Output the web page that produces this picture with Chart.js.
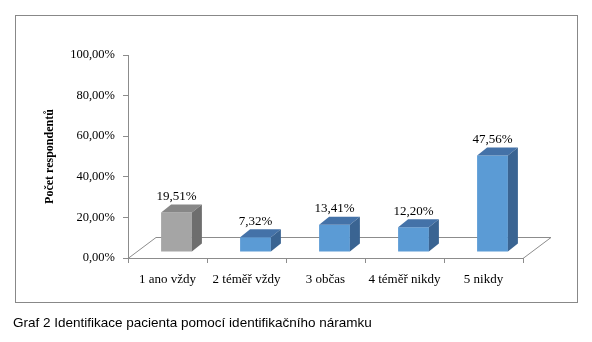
<!DOCTYPE html>
<html>
<head>
<meta charset="utf-8">
<script src="https://cdn.jsdelivr.net/npm/chart.js@4/dist/chart.umd.min.js"></script>
<style>
  html, body { margin: 0; padding: 0; background: #fff; }
  #wrap { position: relative; width: 592px; height: 342px; }
  #c { position: absolute; left: 0; top: 0; }
  #caption {
    position: absolute; left: 13px; top: 315px;
    font-family: "Liberation Sans", Arial, sans-serif; font-size: 13.5px; color: #000;
    white-space: nowrap;
  }
</style>
</head>
<body>
<div id="wrap">
  <canvas id="c" width="592" height="342"></canvas>
  <div id="caption">Graf 2 Identifikace pacienta pomocí identifikačního náramku</div>
</div>
<script>
// Answers to "Identifikace pacienta pomocí identifikačního náramku"
const categories = ['1 ano vždy', '2 téměř vždy', '3 občas', '4 téměř nikdy', '5 nikdy'];
const shares = [19.51, 7.32, 13.41, 12.20, 47.56];   // % of respondents
const yTicks = [0, 20, 40, 60, 80, 100];

// face colours: front, top, side
const FRONT = ['#a5a5a5', '#5b9bd5', '#5b9bd5', '#5b9bd5', '#5b9bd5'];
const TOP   = ['#878787', '#4472a8', '#4472a8', '#4472a8', '#4472a8'];
const SIDE  = ['#6e6e6e', '#3a6492', '#3a6492', '#3a6492', '#3a6492'];
const AXIS = '#8c8c8c';
const SERIF = '"Liberation Serif", "Times New Roman", serif';

const pct = v => v.toFixed(2).replace('.', ',') + '%';

// pseudo-3D geometry: bar front offset, bar depth, floor depth
const G = { bx: 9, by: -6, dx: 10, dy: -8, fx: 28, fy: -21 };

const box = {
  id: 'box',
  beforeDraw(chart) {
    const ctx = chart.ctx;
    ctx.save();
    ctx.strokeStyle = '#888';
    ctx.lineWidth = 1;
    ctx.strokeRect(15.5, 15.5, 562, 287);
    ctx.restore();
  }
};

const bar3d = {
  id: 'bar3d',
  beforeDatasetsDraw(chart) {
    const { ctx, chartArea: a, scales: { y } } = chart;
    const y0 = Math.round(y.getPixelForValue(0)) + 0.5;
    ctx.save();
    ctx.strokeStyle = AXIS;
    ctx.lineWidth = 1;
    ctx.beginPath();
    ctx.moveTo(a.left, y0);
    ctx.lineTo(a.left + G.fx, y0 + G.fy);
    ctx.lineTo(a.right + G.fx, y0 + G.fy);
    ctx.lineTo(a.right, y0);
    ctx.stroke();
    ctx.restore();
    // front faces are drawn by the bar controller, shifted into the floor
    ctx.save();
    ctx.translate(G.bx, G.by);
  },
  afterDatasetsDraw(chart) {
    const ctx = chart.ctx;
    ctx.restore();
    const meta = chart.getDatasetMeta(0);
    const values = chart.data.datasets[0].data;
    meta.data.forEach((bar, i) => {
      const p = bar.getProps(['x', 'y', 'base', 'width'], true);
      const L = p.x - p.width / 2 + G.bx, R = p.x + p.width / 2 + G.bx;
      const T = p.y + G.by, B = p.base + G.by;
      ctx.save();
      ctx.fillStyle = TOP[i];
      ctx.beginPath();
      ctx.moveTo(L, T); ctx.lineTo(R, T);
      ctx.lineTo(R + G.dx, T + G.dy); ctx.lineTo(L + G.dx, T + G.dy);
      ctx.closePath(); ctx.fill();
      ctx.fillStyle = SIDE[i];
      ctx.beginPath();
      ctx.moveTo(R, T); ctx.lineTo(R + G.dx, T + G.dy);
      ctx.lineTo(R + G.dx, B + G.dy); ctx.lineTo(R, B);
      ctx.closePath(); ctx.fill();
      // value label
      ctx.fillStyle = '#000';
      ctx.font = '13px ' + SERIF;
      ctx.textAlign = 'center';
      ctx.textBaseline = 'middle';
      ctx.fillText(pct(values[i]), (L + R) / 2, T - 16);
      ctx.restore();
    });
  }
};

new Chart(document.getElementById('c'), {
  type: 'bar',
  data: {
    labels: categories,
    datasets: [{
      data: shares,
      backgroundColor: FRONT,
      borderWidth: 0,
      categoryPercentage: 1,
      barPercentage: 0.39
    }]
  },
  options: {
    responsive: false,
    animation: false,
    layout: { padding: { left: 0, top: 55, right: 69, bottom: 0 } },
    plugins: { legend: { display: false }, tooltip: { enabled: false } },
    scales: {
      x: {
        offset: true,
        grid: { offset: true, drawOnChartArea: false, drawTicks: true, tickLength: 5, color: AXIS },
        border: { color: AXIS },
        ticks: { color: '#000', padding: 9, maxRotation: 0, font: { family: SERIF, size: 13 } },
        afterFit(s) { s.height = 84; }
      },
      y: {
        min: 0, max: 100,
        afterBuildTicks(s) { s.ticks = yTicks.map(v => ({ value: v })); },
        grid: { drawOnChartArea: false, drawTicks: true, tickLength: 5, color: AXIS },
        border: { color: AXIS },
        ticks: { color: '#000', padding: 8, font: { family: SERIF, size: 12.5 }, callback: v => pct(v) },
        title: {
          display: true, text: 'Počet respondentů', color: '#000',
          font: { family: SERIF, size: 12, weight: 'bold' },
          padding: { top: 43, bottom: 0 }
        },
        afterFit(s) { s.width = 128; }
      }
    }
  },
  plugins: [box, bar3d]
});
</script>
</body>
</html>
